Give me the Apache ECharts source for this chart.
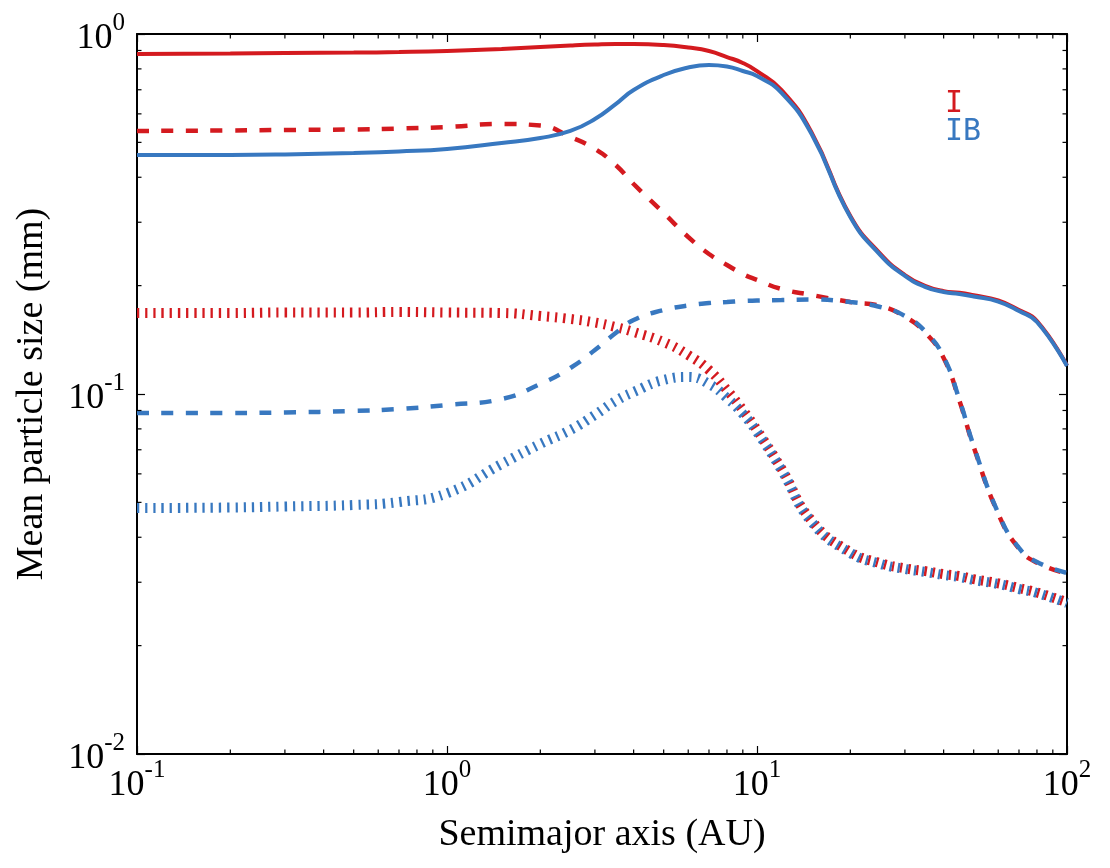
<!DOCTYPE html>
<html>
<head>
<meta charset="utf-8">
<script src="https://cdn.jsdelivr.net/npm/echarts@6/dist/echarts.min.js"></script>
<style>html,body{margin:0;padding:0;background:#fff}#c{width:1110px;height:868px}</style>
</head>
<body>
<div id="c"></div>
<script>
// Semimajor axis (AU)
const xs = [0.1,0.2,0.3,0.5,0.7,1,1.5,2,2.5,3,3.5,4,5,6,7,8,9,10,12,15,20,25,30,35,40,45,50,60,70,80,100];
// Model I (red)
const iSolid  = [0.880,0.883,0.886,0.888,0.891,0.897,0.909,0.920,0.929,0.935,0.938,0.938,0.932,0.917,0.897,0.863,0.831,0.789,0.699,0.533,0.312,0.245,0.214,0.1995,0.193,0.191,0.188,0.182,0.171,0.1595,0.120];
const iDashed = [0.5378,0.5395,0.5412,0.5429,0.5464,0.5517,0.5623,0.5569,0.5176,0.4793,0.4326,0.3831,0.3183,0.2730,0.2448,0.2282,0.2154,0.2074,0.1957,0.1884,0.1801,0.1756,0.1640,0.1477,0.1258,0.0956,0.0713,0.0465,0.0372,0.0340,0.0317];
const iDotted = [0.1679,0.1679,0.1684,0.1684,0.1690,0.1684,0.1679,0.1647,0.1616,0.1580,0.1535,0.1487,0.1394,0.1283,0.1166,0.1026,0.0903,0.0794,0.0620,0.0445,0.0364,0.0339,0.0328,0.0322,0.0316,0.0312,0.0306,0.0298,0.0289,0.0281,0.0264];
// Model IB (blue)
const ibSolid  = [0.4613,0.4613,0.4628,0.4672,0.4717,0.4793,0.4981,0.5143,0.5378,0.5806,0.6389,0.6990,0.7692,0.8072,0.8202,0.8124,0.7893,0.764,0.686,0.5275,0.3102,0.2432,0.2128,0.1982,0.1920,0.1896,0.1866,0.1806,0.1700,0.1585,0.1196];
const ibDashed = [0.08858,0.08858,0.08887,0.08972,0.09088,0.09321,0.09685,0.1066,0.1181,0.1325,0.1477,0.1606,0.1711,0.1761,0.1789,0.1801,0.1813,0.1818,0.1824,0.1830,0.1801,0.1745,0.1647,0.1487,0.1267,0.09624,0.07173,0.04671,0.03735,0.03415,0.03183];
const ibDotted = [0.04823,0.04838,0.04870,0.04917,0.05012,0.0530,0.06391,0.07265,0.07943,0.08745,0.09563,0.1013,0.1094,0.1115,0.1066,0.09748,0.08801,0.07842,0.06150,0.04410,0.03617,0.03372,0.03265,0.03203,0.03142,0.03102,0.03043,0.02966,0.02873,0.02800,0.02627];

const xMin = 0.1, xMax = 100, yMin = 0.01, yMax = 1;
const minorMult = [2,3,4,5,6,7,8,9];
const xMinor = [0.1,1,10].flatMap(d => minorMult.map(m => +(m*d).toPrecision(3)));
const yMinor = [0.01,0.1].flatMap(d => minorMult.map(m => +(m*d).toPrecision(3)));

const legendItems = ['I', 'IB'];
const RED = '#d41a1f', BLUE = '#3878c0';
const SERIF = '"Liberation Serif", "Times New Roman", serif';

function pw(v){
  const e = Math.round(Math.log10(v));
  return '{b|10}{e|' + (e < 0 ? '-' + (-e) : e) + '}';
}
const rich = {
  b: {fontFamily: SERIF, fontSize: 36, color: '#000', lineHeight: 46, verticalAlign: 'bottom'},
  e: {fontFamily: SERIF, fontSize: 25, color: '#000', lineHeight: 24, verticalAlign: 'top'}
};

const pairs = ys => xs.map((x, i) => [x, ys[i]]);
function line(name, ys, color, style){
  const ls = {color: color, width: 4};
  if (style === 'dashed'){ ls.width = 4.5; ls.type = [12, 12.5]; }
  if (style === 'dotted'){ ls.width = 10; ls.type = [2.3, 5.9]; }
  return {name: name, type: 'line', data: pairs(ys), showSymbol: false, symbol: 'none',
    smooth: 0.5, lineStyle: ls, clip: true, z: 2};
}

const axisLine = {show: true, onZero: false, lineStyle: {color: '#000', width: 2}};
const axisTick = {show: true, inside: true, length: 8, lineStyle: {color: '#000', width: 1.2}};

const chart = echarts.init(document.getElementById('c'), null, {renderer: 'canvas'});
chart.setOption({
  animation: false,
  backgroundColor: '#fff',
  grid: {left: 137, right: 43, top: 34, bottom: 114, containLabel: false},
  xAxis: [
    {type: 'log', logBase: 10, min: xMin, max: xMax, position: 'bottom',
     axisLine: axisLine, axisTick: axisTick, splitLine: {show: false},
     axisLabel: {formatter: pw, rich: rich, margin: 4},
     name: 'Semimajor axis (AU)', nameLocation: 'middle', nameGap: 62,
     nameTextStyle: {fontFamily: SERIF, fontSize: 38, color: '#000'}},
    {type: 'log', logBase: 10, min: xMin, max: xMax, position: 'top',
     axisLine: axisLine, axisTick: axisTick, splitLine: {show: false}, axisLabel: {show: false}}
  ],
  yAxis: [
    {type: 'log', logBase: 10, min: yMin, max: yMax, position: 'left',
     axisLine: axisLine, axisTick: axisTick, splitLine: {show: false},
     axisLabel: {formatter: pw, rich: rich, margin: 12},
     name: 'Mean particle size (mm)', nameLocation: 'middle', nameGap: 86,
     nameTextStyle: {fontFamily: SERIF, fontSize: 38, color: '#000'}},
    {type: 'log', logBase: 10, min: yMin, max: yMax, position: 'right',
     axisLine: axisLine, axisTick: axisTick, splitLine: {show: false}, axisLabel: {show: false}}
  ],
  series: [
    line('I', iSolid, RED, 'solid'),
    line('I', iDashed, RED, 'dashed'),
    line('I', iDotted, RED, 'dotted'),
    line('IB', ibSolid, BLUE, 'solid'),
    line('IB', ibDashed, BLUE, 'dashed'),
    line('IB', ibDotted, BLUE, 'dotted'),
    {type: 'custom', silent: true, z: 5, clip: false,
     data: xMinor.map(v => [v, yMin]),
     renderItem: function(params, api){
       const v = api.value(0);
       const b = api.coord([v, yMin]), t = api.coord([v, yMax]);
       const st = {stroke: '#000', lineWidth: 1.2};
       return {type: 'group', children: [
         {type: 'line', shape: {x1: b[0], y1: b[1], x2: b[0], y2: b[1] - 4.5}, style: st},
         {type: 'line', shape: {x1: t[0], y1: t[1], x2: t[0], y2: t[1] + 4.5}, style: st}
       ]};
     }},
    {type: 'custom', silent: true, z: 5, clip: false,
     data: yMinor.map(v => [xMin, v]),
     renderItem: function(params, api){
       const v = api.value(1);
       const l = api.coord([xMin, v]), r = api.coord([xMax, v]);
       const st = {stroke: '#000', lineWidth: 1.2};
       return {type: 'group', children: [
         {type: 'line', shape: {x1: l[0], y1: l[1], x2: l[0] + 4.5, y2: l[1]}, style: st},
         {type: 'line', shape: {x1: r[0], y1: r[1], x2: r[0] - 4.5, y2: r[1]}, style: st}
       ]};
     }}
  ],
  graphic: [
    {type: 'text', left: 945, top: 89, style: {text: legendItems[0], fill: RED, font: '30px "DejaVu Sans Mono", monospace'}},
    {type: 'text', left: 945, top: 117, style: {text: legendItems[1], fill: BLUE, font: '30px "DejaVu Sans Mono", monospace'}}
  ]
});
</script>
</body>
</html>
